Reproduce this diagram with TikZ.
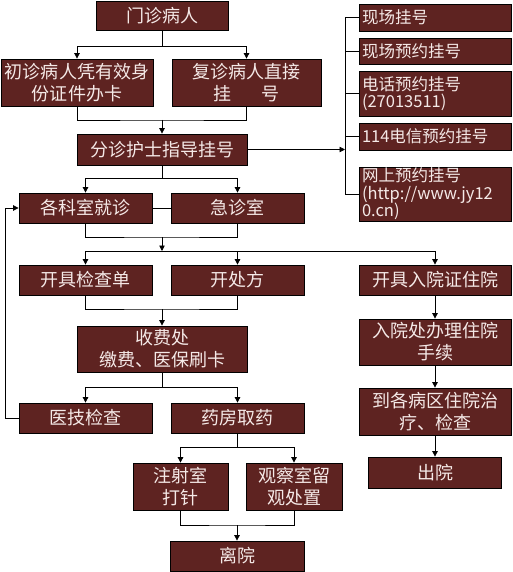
\documentclass[tikz,border=0pt]{standalone}
\usepackage{fontspec}
\setmainfont{Noto Sans CJK SC}
\usetikzlibrary{arrows.meta}
\definecolor{boxfill}{HTML}{5E2321}
\definecolor{boxtext}{HTML}{F5E9E7}
\tikzset{
  box/.style={draw=black, line width=0.8pt, fill=boxfill, text=boxtext, inner sep=0pt,
    align=center, font=\fontsize{18}{22}\selectfont},
  rbox/.style={box, align=left, text width=146pt, minimum width=152pt, inner ysep=-4pt,
    font=\fontsize{16.5}{17.5}\selectfont},
  conn/.style={line width=0.8pt, draw=black},
  arr/.style={conn, -{Triangle[length=5.5pt,width=5.5pt]}},
}
\begin{document}
\begin{tikzpicture}[x=1pt,y=-1pt]
\useasboundingbox (0,0) rectangle (512,572);
% left / centre column boxes
\node[box, minimum width=132pt, minimum height=29pt] (mz) at (162,15.5) {门诊病人};
\node[box, minimum width=152pt, minimum height=47pt] (cz) at (77,82.5) {初诊病人凭有效身\\份证件办卡};
\node[box, minimum width=149pt, minimum height=47pt] (fz) at (246.5,82.5) {复诊病人直接\\挂\hspace{1.7em}号};
\node[box, minimum width=170pt, minimum height=31pt] (fzhs) at (162,149.5) {分诊护士指导挂号};
\node[box, minimum width=133pt, minimum height=30pt] (gks) at (85.5,208) {各科室就诊};
\node[box, minimum width=133pt, minimum height=30pt] (jzs) at (237.5,208) {急诊室};
\node[box, minimum width=133pt, minimum height=30pt] (kjjc) at (85.5,280) {开具检查单};
\node[box, minimum width=133pt, minimum height=30pt] (kcf) at (237.5,280) {开处方};
\node[box, minimum width=170pt, minimum height=46pt] (sfc) at (162,349) {收费处\\缴费、医保刷卡};
\node[box, minimum width=133pt, minimum height=30pt] (yjjc) at (85.5,418) {医技检查};
\node[box, minimum width=133pt, minimum height=30pt] (yfqy) at (237.5,418) {药房取药};
\node[box, minimum width=95pt, minimum height=47pt] (zss) at (180.5,486.5) {注射室\\打针};
\node[box, minimum width=96pt, minimum height=47pt] (gcs) at (294,486.5) {观察室留\\观处置};
\node[box, minimum width=134pt, minimum height=30pt] (ly) at (237,556) {离院};
% right column boxes
\node[rbox, minimum height=27pt] (r1) at (435,17.5) {现场挂号};
\node[rbox, minimum height=26pt] (r2) at (435,51) {现场预约挂号};
\node[rbox, minimum height=45pt] (r3) at (435,93.5) {电话预约挂号\\(27013511)};
\node[rbox, minimum height=27pt] (r4) at (435,136.5) {114电信预约挂号};
\node[rbox, minimum height=54pt] (r5) at (435,194) {网上预约挂号\\(http://www.jy12\\0.cn)};
\node[box, minimum width=152pt, minimum height=30pt] (kjry) at (435,280) {开具入院证住院};
\node[box, minimum width=152pt, minimum height=46pt] (rycl) at (435,342) {入院处办理住院\\手续};
\node[box, minimum width=152pt, minimum height=47pt] (dgbq) at (435,411.5) {到各病区住院治\\疗、检查};
\node[box, minimum width=133pt, minimum height=31pt] (cy) at (435,472.5) {出院};
% junction coordinates
\coordinate (j1) at (162,46);
\coordinate (m1) at (162,120);
\coordinate (j3) at (162,178);
\coordinate (m2) at (162,237);
\coordinate (j4) at (162,251);
\coordinate (m3) at (162,309);
\coordinate (j5) at (162,387);
\coordinate (j6) at (237.5,447);
\coordinate (m4) at (237,525);
\coordinate (lb) at (5,418);
\coordinate (bt) at (345,17.5);
\coordinate (bb) at (345,194);
\coordinate (rb) at (345,149.5);
% connectors
\draw[conn] (mz.south) -- (j1);
\draw[arr] (j1) -| (cz.north);
\draw[arr] (j1) -| (fz.north);
\draw[conn] (cz.south) |- (m1) -| (fz.south);
\draw[arr] (m1) -- (fzhs.north);
\draw[arr] (fzhs.east) -- (rb);
\draw[conn] (r1.west) -- (bt) -- (bb) -- (r5.west);
\draw[conn] (r2.west) -- (r2.west -| bt);
\draw[conn] (r3.west) -- (r3.west -| bt);
\draw[conn] (r4.west) -- (r4.west -| bt);
\draw[conn] (fzhs.south) -- (j3);
\draw[arr] (j3) -| (gks.north);
\draw[arr] (j3) -| (jzs.north);
\draw[conn] (gks.east) -- (jzs.west);
\draw[conn] (gks.south) |- (m2) -| (jzs.south);
\draw[arr] (m2) -- (j4);
\draw[arr] (j4) -| (kjjc.north);
\draw[arr] (j4) -| (kcf.north);
\draw[arr] (j4) -| (kjry.north);
\draw[conn] (kjjc.south) |- (m3) -| (kcf.south);
\draw[arr] (m3) -- (sfc.north);
\draw[conn] (sfc.south) -- (j5);
\draw[arr] (j5) -| (yjjc.north);
\draw[arr] (j5) -| (yfqy.north);
\draw[arr] (yjjc.west) -- (lb) |- (gks.west);
\draw[conn] (yfqy.south) -- (j6);
\draw[arr] (j6) -| (zss.north);
\draw[arr] (j6) -| (gcs.north);
\draw[conn] (zss.south) |- (m4) -| (gcs.south);
\draw[arr] (m4) -- (ly.north);
\draw[arr] (kjry.south) -- (rycl.north);
\draw[arr] (rycl.south) -- (dgbq.north);
\draw[arr] (dgbq.south) -- (cy.north);
\end{tikzpicture}
\end{document}
